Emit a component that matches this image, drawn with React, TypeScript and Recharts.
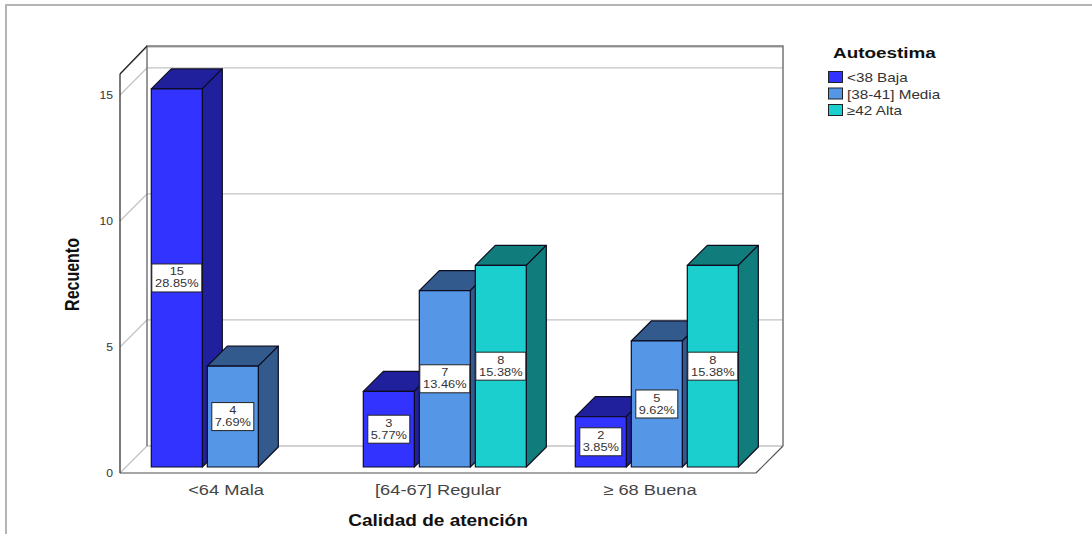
import React from 'react';
import { BarChart, Bar, XAxis, YAxis, CartesianGrid, Legend, LabelList, Customized } from 'recharts';

const categories = ['<64 Mala', '[64-67] Regular', '≥ 68 Buena'];
const baja = [15, 3, 2];
const media = [4, 7, 5];
const alta = [0, 8, 8];
const bajaPct = ['28.85%', '5.77%', '3.85%'];
const mediaPct = ['7.69%', '13.46%', '9.62%'];
const altaPct = [null, '15.38%', '15.38%'];
const yTicks = [0, 5, 10, 15];

const rows = categories.map((name, i) => ({ name, baja: baja[i], media: media[i], alta: alta[i] }));

const WIDTH = 1092;
const HEIGHT = 534;
const X_AXIS_HEIGHT = 61;
const Y_AXIS_WIDTH = 60;
const MARGIN = { top: 74, right: 336, bottom: 0, left: 60 };
const FRONT_LEFT = MARGIN.left + Y_AXIS_WIDTH;
const FRONT_RIGHT = WIDTH - MARGIN.right;
const FRONT_TOP = MARGIN.top;
const FRONT_BOTTOM = HEIGHT - X_AXIS_HEIGHT;

// depth of the box around the plot, and of each bar
const WALL_DEPTH = 27;
const BAR_DEPTH = 20;
const BAR_SHIFT_X = 6.3;
const BAR_SHIFT_Y = -6;

// the glyphs are drawn wider than tall
const STRETCH = 1.22;

const Stretched = ({ x, y, size, bold, fill, anchor = 'middle', children }: any) => (
    <text
        transform={`translate(${x} ${y}) scale(${STRETCH} 1)`}
        textAnchor={anchor}
        dominantBaseline="central"
        fontFamily="Liberation Sans, Arial, sans-serif"
        fontSize={size}
        fontWeight={bold ? 700 : 400}
        fill={fill}
    >
        {children}
    </text>
);

const makeBox = (front: string, dark: string) => (props: any) => {
    const { x, y, width, height } = props;
    if (!height) return null;
    const l = x + BAR_SHIFT_X;
    const r = l + width;
    const t = y + BAR_SHIFT_Y;
    const b = t + height;
    const d = BAR_DEPTH;
    return (
        <g stroke="#0c0c20" strokeWidth={1.2} strokeLinejoin="round">
            <path d={`M${l} ${t}L${l + d} ${t - d}L${r + d} ${t - d}L${r} ${t}Z`} fill={dark} />
            <path d={`M${r} ${t}L${r + d} ${t - d}L${r + d} ${b - d}L${r} ${b}Z`} fill={dark} />
            <rect x={l} y={t} width={width} height={height} fill={front} />
        </g>
    );
};

const makeValueLabel = (pcts: (string | null)[]) => (props: any) => {
    const { x, y, width, height, value, index } = props;
    const pct = pcts[index];
    if (!value || !pct) return null;
    const cx = x + BAR_SHIFT_X + width / 2;
    const cy = y + BAR_SHIFT_Y + height / 2;
    const w = pct.length * 8 + 2;
    return (
        <g>
            <rect x={cx - w / 2} y={cy - 14} width={w} height={28} fill="#fff" stroke="#222" strokeWidth={1} />
            <Stretched x={cx} y={cy - 6.5} size={10.5} fill="#333">{value}</Stretched>
            <Stretched x={cx} y={cy + 5.5} size={10.5} fill="#333">{pct}</Stretched>
        </g>
    );
};

// box edges around the plot: back wall and the left and right sides
const WallFrame = () => {
    const d = WALL_DEPTH;
    const backTop = FRONT_TOP - 28;
    const backBottom = FRONT_BOTTOM - d;
    return (
        <g fill="none">
            <path
                d={`M${FRONT_LEFT + d} ${backBottom}V${backTop}H${FRONT_RIGHT + d}V${backBottom}`}
                stroke="#777"
                strokeWidth={1.5}
            />
            <path d={`M${FRONT_LEFT} ${FRONT_TOP}L${FRONT_LEFT + d} ${backTop}`} stroke="#222" strokeWidth={1.2} />
            <path d={`M${FRONT_RIGHT} ${FRONT_BOTTOM}L${FRONT_RIGHT + d} ${backBottom}`} stroke="#555" strokeWidth={1.2} />
        </g>
    );
};

const gridLine = (props: any) => {
    const { x1, x2, y1 } = props;
    const d = WALL_DEPTH;
    return (
        <path
            key={`grid-${y1}`}
            d={`M${x1} ${y1}L${x1 + d} ${y1 - d}H${x2 + d}`}
            fill="none"
            stroke="#c4c4c4"
            strokeWidth={1.3}
        />
    );
};

const CategoryTick = ({ x, y, payload }: any) => (
    <Stretched x={x} y={y + 9} size={15} fill="#444">{payload.value}</Stretched>
);

const CountTick = ({ x, y, payload }: any) => (
    <Stretched x={x + 1} y={y + 0.5} size={10} anchor="end" fill="#333">{payload.value}</Stretched>
);

const LegendBlock = ({ payload }: any) => (
    <svg width={130} height={76} style={{ display: 'block' }}>
        <Stretched x={5} y={9} size={15.5} bold anchor="start" fill="#111">Autoestima</Stretched>
        {(payload || []).map((item: any, i: number) => (
            <g key={item.value}>
                <rect x={0.5} y={27.5 + i * 16.5} width={14} height={11} fill={item.color} stroke="#222" />
                <Stretched x={19} y={34 + i * 16.5} size={12.5} anchor="start" fill="#333">{item.value}</Stretched>
            </g>
        ))}
    </svg>
);

const App = () => (
    <div
        style={{
            position: 'absolute',
            left: 0,
            top: 0,
            width: WIDTH,
            height: HEIGHT,
            background: '#fff',
            overflow: 'hidden',
        }}
    >
        <div
            style={{
                position: 'absolute',
                left: 5,
                top: 4,
                right: 0,
                bottom: 0,
                borderTop: '2px solid #b4b4b4',
                borderLeft: '2px solid #b4b4b4',
            }}
        />
        <div style={{ position: 'absolute', left: 0, top: 0 }}>
            <BarChart width={WIDTH} height={HEIGHT} data={rows} margin={MARGIN} barSize={51} barGap={5}>
                <CartesianGrid vertical={false} horizontal={gridLine} />
                <Customized component={WallFrame} />
                <XAxis
                    dataKey="name"
                    height={X_AXIS_HEIGHT}
                    tick={CategoryTick}
                    tickLine={false}
                    axisLine={{ stroke: '#888', strokeWidth: 1.5 }}
                    interval={0}
                    label={{
                        content: () => (
                            <Stretched x={(FRONT_LEFT + FRONT_RIGHT) / 2} y={521} size={15.6} bold fill="#111">
                                Calidad de atención
                            </Stretched>
                        ),
                    }}
                />
                <YAxis
                    width={Y_AXIS_WIDTH}
                    domain={[0, 15.83]}
                    ticks={yTicks}
                    tick={CountTick}
                    tickLine={false}
                    axisLine={{ stroke: '#222', strokeWidth: 1.2 }}
                    label={{
                        content: () => (
                            <text
                                transform={`translate(72 ${(FRONT_TOP + FRONT_BOTTOM) / 2 + 1}) rotate(-90) scale(1 ${STRETCH})`}
                                textAnchor="middle"
                                dominantBaseline="central"
                                fontFamily="Liberation Sans, Arial, sans-serif"
                                fontSize={16}
                                fontWeight={700}
                                fill="#111"
                            >
                                Recuento
                            </text>
                        ),
                    }}
                />
                <Legend
                    layout="vertical"
                    align="center"
                    verticalAlign="middle"
                    content={LegendBlock}
                    wrapperStyle={{ position: 'absolute', left: 828, top: 44, width: 130, height: 76 }}
                />
                <Bar dataKey="baja" name="<38 Baja" fill="#3333FF" shape={makeBox('#3333FF', '#20209C')} isAnimationActive={false}>
                    <LabelList dataKey="baja" content={makeValueLabel(bajaPct)} />
                </Bar>
                <Bar dataKey="media" name="[38-41] Media" fill="#5596E6" shape={makeBox('#5596E6', '#325A8C')} isAnimationActive={false}>
                    <LabelList dataKey="media" content={makeValueLabel(mediaPct)} />
                </Bar>
                <Bar dataKey="alta" name="≥42 Alta" fill="#1CCFCF" shape={makeBox('#1CCFCF', '#107C7C')} isAnimationActive={false}>
                    <LabelList dataKey="alta" content={makeValueLabel(altaPct)} />
                </Bar>
            </BarChart>
        </div>
    </div>
);

export default App;
